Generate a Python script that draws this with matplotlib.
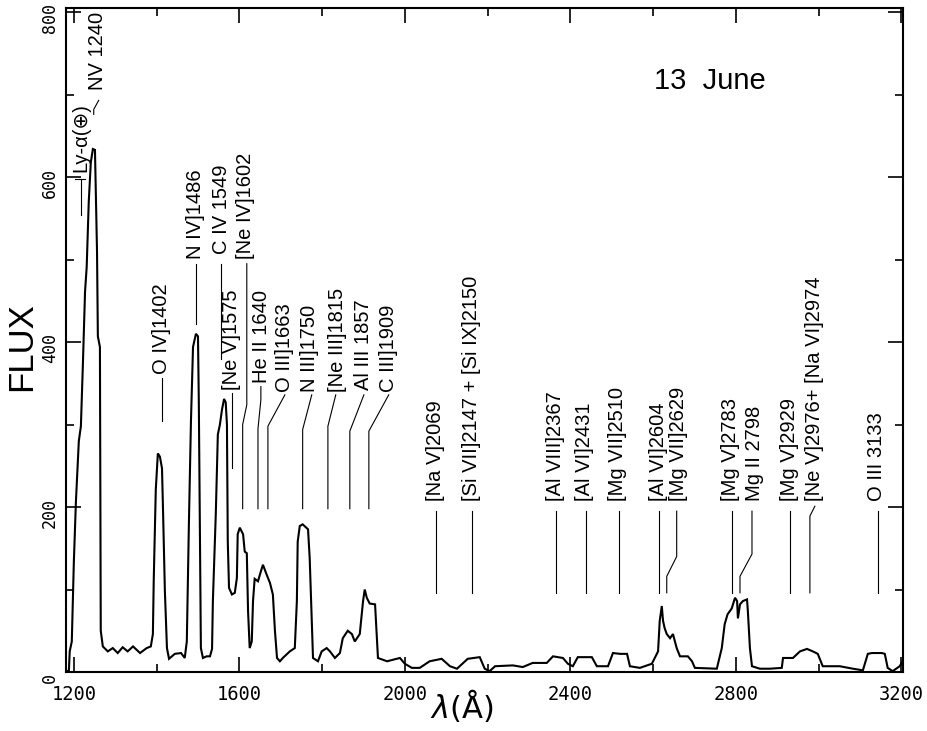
import matplotlib
matplotlib.use("Agg")
import matplotlib.pyplot as plt
import matplotlib.transforms as mtransforms
from matplotlib.ticker import MultipleLocator

# spectrum: wavelength (A) and flux
wave = [1181, 1188, 1190, 1195, 1200, 1205, 1212, 1217, 1222, 1227, 1231, 1236, 1241, 1246, 1251,
        1256, 1258, 1263, 1265, 1270, 1282, 1294, 1306, 1318, 1330, 1343, 1360, 1376, 1386, 1391,
        1393, 1398, 1403, 1408, 1413, 1415, 1420, 1425, 1430, 1444, 1459, 1468, 1473, 1478, 1483,
        1488, 1495, 1500, 1502, 1505, 1507, 1512, 1521, 1529, 1534, 1536, 1543, 1548, 1553, 1558,
        1563, 1567, 1570, 1572, 1575, 1582, 1589, 1594, 1596, 1601, 1609, 1613, 1618, 1621, 1625,
        1630, 1633, 1637, 1645, 1652, 1657, 1666, 1674, 1681, 1686, 1691, 1698, 1705, 1722, 1734,
        1739, 1741, 1746, 1753, 1766, 1770, 1775, 1778, 1790, 1799, 1811, 1819, 1831, 1843, 1850,
        1862, 1872, 1879, 1891, 1899, 1903, 1908, 1915, 1928, 1932, 1935, 1957, 1981, 1988, 2000,
        2017, 2036, 2060, 2089, 2109, 2126, 2152, 2181, 2193, 2205, 2218, 2261, 2285, 2309, 2343,
        2358, 2382, 2394, 2406, 2418, 2452, 2464, 2491, 2503, 2520, 2537, 2544, 2568, 2597, 2612,
        2616, 2621, 2624, 2628, 2633, 2641, 2648, 2657, 2665, 2684, 2694, 2701, 2754, 2766, 2773,
        2780, 2790, 2798, 2803, 2805, 2810, 2817, 2827, 2829, 2834, 2839, 2858, 2882, 2911, 2914,
        2938, 2955, 2972, 2986, 2998, 3010, 3051, 3083, 3107, 3119, 3129, 3153, 3160, 3167, 3179,
        3196, 3203]
flux = [0, 2, 25, 37, 134, 207, 280, 298, 376, 461, 491, 570, 618, 634, 633,
        509, 407, 394, 50, 31, 25, 29, 23, 30, 25, 31, 23, 29, 31, 46,
        110, 221, 265, 261, 247, 207, 98, 29, 16, 22, 23, 17, 37, 179, 304,
        394, 410, 407, 328, 146, 29, 17, 19, 19, 28, 86, 191, 288, 300, 318,
        331, 327, 300, 158, 102, 94, 96, 114, 167, 175, 167, 146, 144, 74, 29,
        37, 86, 113, 110, 122, 130, 118, 108, 94, 50, 17, 13, 17, 25, 29,
        86, 158, 177, 179, 173, 138, 62, 17, 13, 25, 29, 25, 17, 23, 41,
        50, 46, 37, 46, 86, 100, 90, 83, 82, 46, 17, 13, 16, 17, 10,
        5, 5, 13, 16, 7, 4, 16, 18, 4, 1, 7, 8, 6, 11, 11,
        19, 17, 10, 7, 18, 18, 7, 7, 23, 22, 22, 7, 5, 10, 25,
        62, 80, 62, 53, 46, 41, 46, 29, 19, 19, 13, 5, 4, 29, 58,
        70, 77, 90, 86, 65, 82, 86, 88, 74, 29, 7, 4, 4, 5, 17,
        17, 25, 28, 25, 22, 7, 7, 4, 2, 22, 23, 23, 22, 5, 1,
        7, 13]

# line identifications: text, position of its lower end (wavelength, flux), leader path
line_labels = ["Ly-α(⊕)", "NV 1240", "O IV]1402", "N IV]1486", "C IV 1549", "[Ne V]1575",
               "[Ne IV]1602", "He II 1640", "O III]1663", "N III]1750", "[Ne III]1815",
               "Al III 1857", "C III]1909",
               "[Na V]2069", "[Si VII]2147 + [Si IX]2150", "[Al VIII]2367", "[Al VI]2431",
               "[Mg VII]2510", "[Al VI]2604", "[Mg VII]2629", "[Mg V]2783", "Mg II 2798",
               "[Mg V]2929", "[Ne V]2976+ [Na VI]2974", "O III 3133"]
label_x = [1217, 1256, 1413, 1495, 1557, 1582, 1616, 1654, 1708, 1770, 1836, 1901, 1961,
           2073, 2160, 2363, 2435, 2515, 2612, 2662, 2786, 2845, 2929, 2990, 3141]
label_y = [606, 705, 361, 501, 507, 342, 501, 350, 339, 339, 339, 342, 339,
           207, 207, 207, 207, 207, 207, 207, 207, 207, 207, 207, 207]
leaders = [
    [(1218, 598), (1218, 554)],
    [(1260, 693), (1248, 682), (1248, 676)],
    [(1413, 356), (1413, 304)],
    [(1495, 495), (1495, 422)],
    [(1555, 495), (1555, 379)],
    [(1582, 338), (1582, 247)],
    [(1618, 495), (1618, 324), (1608, 300), (1608, 198)],
    [(1652, 346), (1652, 330), (1645, 295), (1645, 198)],
    [(1710, 336), (1669, 298), (1669, 198)],
    [(1775, 336), (1753, 294), (1753, 198)],
    [(1833, 336), (1814, 298), (1814, 198)],
    [(1901, 336), (1867, 292), (1867, 198)],
    [(1961, 336), (1913, 292), (1913, 198)],
    [(2075, 195), (2075, 96)],
    [(2162, 195), (2162, 96)],
    [(2365, 195), (2365, 96)],
    [(2437, 195), (2437, 96)],
    [(2517, 195), (2517, 96)],
    [(2614, 195), (2614, 96)],
    [(2657, 195), (2657, 140), (2633, 116), (2633, 96)],
    [(2790, 195), (2790, 96)],
    [(2839, 195), (2839, 143), (2810, 116), (2810, 96)],
    [(2931, 195), (2931, 96)],
    [(2991, 201), (2979, 189), (2979, 96)],
    [(3143, 195), (3143, 96)],
]

label_font = ["Liberation Sans", "DejaVu Sans"]

fig = plt.figure(figsize=(9.28, 7.31), dpi=100)
ax = fig.add_axes([66 / 928, 1 - 672 / 731, (903 - 66) / 928, (672 - 8) / 731])

ax.plot(wave, flux, color="black", lw=1.5, solid_joinstyle="miter")

for txt, x, y, path in zip(line_labels, label_x, label_y, leaders):
    ax.text(x, y, txt, rotation=90, ha="center", va="bottom", fontsize=14.5,
            family=label_font)
    xs = [p[0] for p in path]
    ys = [p[1] for p in path]
    ax.plot(xs, ys, color="black", lw=0.8)
# small bar under the Ly-alpha label
ax.plot([1203, 1228], [598, 598], color="black", lw=0.8)

ax.text(2737, 717, "13  June", ha="center", va="center", fontsize=21, family=label_font)

ax.set_xlim(1181, 3204)
ax.set_ylim(0, 805)
ax.xaxis.set_major_locator(MultipleLocator(400))
ax.xaxis.set_minor_locator(MultipleLocator(200))
ax.yaxis.set_major_locator(MultipleLocator(200))
ax.yaxis.set_minor_locator(MultipleLocator(100))
ax.tick_params(which="both", direction="in", top=True, right=True, width=1.2)
ax.tick_params(which="major", length=11)
ax.tick_params(which="minor", length=6)
ax.tick_params(axis="x", pad=9)
ax.tick_params(axis="y", pad=5)
for lab in ax.get_xticklabels():
    lab.set_family("DejaVu Sans Mono")
    lab.set_fontsize(13.5)
shift_down = mtransforms.ScaledTranslation(0, -6 / 100, fig.dpi_scale_trans)
for lab in ax.get_yticklabels():
    lab.set_family("DejaVu Sans Mono")
    lab.set_fontsize(12)
    lab.set_rotation(90)
    lab.set_va("center")
    lab.set_transform(lab.get_transform() + shift_down)
for s in ax.spines.values():
    s.set_linewidth(1.5)

fig.text(22 / 928, 1 - 347 / 731, "FLUX", rotation=90, ha="center", va="center",
         fontsize=25, family="Liberation Sans")
fig.text(462 / 928, 1 - 705 / 731, r"$\lambda$(Å)", ha="center", va="center",
         fontsize=22, family="DejaVu Sans")

fig.savefig("out.png", dpi=100)
